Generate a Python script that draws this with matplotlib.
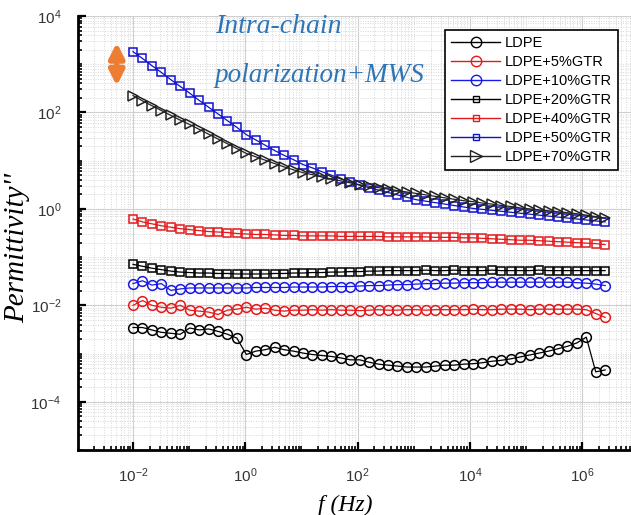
import numpy as np
import matplotlib
matplotlib.use("Agg")
import matplotlib.pyplot as plt
from matplotlib.lines import Line2D
from matplotlib.ticker import LogLocator, NullFormatter, FixedLocator

plt.rcParams["font.family"] = ["Liberation Sans", "DejaVu Sans"]
plt.rcParams["mathtext.default"] = "regular"

# frequency sweep, 10^-2 .. ~2.5e6 Hz
freq = np.logspace(-2, 6.41, 51)

# log10 of permittivity''
ldpe = [-2.46, -2.46, -2.51, -2.56, -2.58, -2.60, -2.47, -2.51, -2.49, -2.54,
        -2.60, -2.68, -3.02, -2.95, -2.92, -2.87, -2.92, -2.95, -2.99, -3.02,
        -3.04, -3.06, -3.09, -3.13, -3.13, -3.18, -3.22, -3.24, -3.26, -3.28,
        -3.28, -3.28, -3.26, -3.24, -3.24, -3.22, -3.21, -3.19, -3.16, -3.14,
        -3.11, -3.07, -3.03, -2.99, -2.95, -2.90, -2.85, -2.78, -2.66, -3.38,
        -3.34]
gtr5 = [-2.00, -1.90, -2.00, -2.04, -2.06, -2.00, -2.10, -2.12, -2.14, -2.19,
        -2.10, -2.08, -2.04, -2.08, -2.06, -2.10, -2.12, -2.10, -2.10, -2.09,
        -2.10, -2.09, -2.10, -2.10, -2.11, -2.10, -2.09, -2.10, -2.10, -2.09,
        -2.09, -2.10, -2.09, -2.09, -2.09, -2.09, -2.08, -2.09, -2.09, -2.08,
        -2.08, -2.08, -2.09, -2.08, -2.08, -2.08, -2.08, -2.08, -2.09, -2.17,
        -2.25]
gtr10 = [-1.55, -1.49, -1.58, -1.55, -1.69, -1.66, -1.64, -1.64, -1.64, -1.64,
         -1.64, -1.64, -1.64, -1.63, -1.63, -1.63, -1.63, -1.62, -1.62, -1.62,
         -1.62, -1.61, -1.61, -1.61, -1.60, -1.59, -1.59, -1.58, -1.57, -1.57,
         -1.56, -1.55, -1.55, -1.54, -1.54, -1.53, -1.53, -1.53, -1.52, -1.52,
         -1.52, -1.52, -1.52, -1.52, -1.52, -1.52, -1.52, -1.53, -1.54, -1.56,
         -1.59]
gtr20 = [-1.15, -1.19, -1.23, -1.26, -1.29, -1.31, -1.32, -1.33, -1.33, -1.34,
         -1.34, -1.35, -1.35, -1.35, -1.35, -1.34, -1.34, -1.33, -1.33, -1.32,
         -1.32, -1.31, -1.31, -1.30, -1.30, -1.29, -1.29, -1.28, -1.28, -1.28,
         -1.28, -1.27, -1.28, -1.28, -1.27, -1.28, -1.28, -1.28, -1.27, -1.28,
         -1.28, -1.28, -1.28, -1.27, -1.28, -1.28, -1.28, -1.28, -1.28, -1.28,
         -1.28]
gtr40 = [-0.21, -0.27, -0.31, -0.35, -0.38, -0.41, -0.43, -0.45, -0.47, -0.48,
         -0.49, -0.51, -0.52, -0.53, -0.53, -0.54, -0.55, -0.55, -0.56, -0.56,
         -0.56, -0.56, -0.57, -0.57, -0.57, -0.57, -0.57, -0.58, -0.58, -0.58,
         -0.58, -0.58, -0.59, -0.59, -0.59, -0.60, -0.60, -0.61, -0.62, -0.63,
         -0.64, -0.65, -0.65, -0.66, -0.67, -0.68, -0.69, -0.70, -0.71, -0.72,
         -0.74]
gtr50 = [3.26, 3.12, 2.97, 2.83, 2.68, 2.54, 2.40, 2.25, 2.11, 1.97,
         1.83, 1.69, 1.54, 1.43, 1.32, 1.21, 1.11, 1.02, 0.92, 0.85,
         0.77, 0.70, 0.62, 0.56, 0.49, 0.44, 0.39, 0.34, 0.29, 0.24,
         0.19, 0.16, 0.13, 0.10, 0.07, 0.04, 0.01, -0.01, -0.03, -0.05,
         -0.07, -0.09, -0.11, -0.13, -0.15, -0.17, -0.19, -0.21, -0.23, -0.25,
         -0.27]
gtr70 = [2.35, 2.24, 2.14, 2.04, 1.94, 1.84, 1.75, 1.65, 1.55, 1.45,
         1.35, 1.25, 1.15, 1.08, 1.01, 0.94, 0.87, 0.81, 0.75, 0.71,
         0.66, 0.62, 0.58, 0.54, 0.50, 0.47, 0.44, 0.41, 0.38, 0.35,
         0.32, 0.29, 0.26, 0.23, 0.20, 0.17, 0.15, 0.12, 0.10, 0.07,
         0.05, 0.02, 0.00, -0.02, -0.04, -0.06, -0.08, -0.10, -0.13, -0.16,
         -0.19]

labels = ["LDPE", "LDPE+5%GTR", "LDPE+10%GTR", "LDPE+20%GTR",
          "LDPE+40%GTR", "LDPE+50%GTR", "LDPE+70%GTR"]
series = [ldpe, gtr5, gtr10, gtr20, gtr40, gtr50, gtr70]
colors = ["black", "#e31a1c", "#1a1ae6", "black", "#e31a1c", "#1010d0", "#222222"]
markers = ["o", "o", "o", "s", "s", "s", ">"]
xticks = [1e-2, 1e0, 1e2, 1e4, 1e6]
yticks = [1e-4, 1e-2, 1e0, 1e2, 1e4]

fig = plt.figure(figsize=(6.31, 5.15), dpi=100)
ax = fig.add_axes([78 / 631, 1 - 450 / 515, 1 - 78 / 631, (450 - 16) / 515])

for vals, c, m in zip(series, colors, markers):
    ms = {"o": 7, "s": 6, ">": 7.5}[m]
    ax.plot(freq, 10 ** np.array(vals), color=c, lw=0.9, marker=m, ms=ms,
            mfc="none", mec=c, mew=1.1)

ax.set_xscale("log")
ax.set_yscale("log")
ax.set_xlim(10 ** -2.98, 10 ** 6.87)
ax.set_ylim(1e-5, 1e4)

ax.xaxis.set_major_locator(FixedLocator(xticks))
ax.yaxis.set_major_locator(FixedLocator(yticks))
ax.xaxis.set_minor_locator(LogLocator(base=10, subs=np.arange(1, 10), numticks=50))
ax.yaxis.set_minor_locator(LogLocator(base=10, subs=np.arange(1, 10), numticks=50))
ax.xaxis.set_minor_formatter(NullFormatter())
ax.yaxis.set_minor_formatter(NullFormatter())

ax.grid(which="major", color="#cfcfcf", lw=0.8)
ax.grid(which="minor", color="#d6d6d6", lw=0.7, ls=(0, (1, 1.5)))
ax.set_axisbelow(True)

for s in ["top", "right"]:
    ax.spines[s].set_visible(False)
for s in ["left", "bottom"]:
    ax.spines[s].set_linewidth(2)
ax.tick_params(which="major", direction="in", length=6, width=1.6,
               labelsize=11, labelcolor="#333333", pad=12)
ax.tick_params(which="minor", direction="in", length=3, width=1.2)

ax.set_xlabel("f (Hz)", family="Liberation Serif", style="italic", fontsize=17)
ax.xaxis.set_label_coords(0.483, -0.104)
ax.set_ylabel("Permittivity''", family="Liberation Serif", style="italic",
              fontsize=21)
ax.yaxis.set_label_coords(-0.087, 0.465)

ax.text(10 ** -0.54, 10 ** 3.65, "Intra-chain", family="Liberation Serif",
        style="italic", fontsize=20, color="#2e75b6")
ax.text(10 ** -0.54, 10 ** 2.64, "polarization+MWS", family="Liberation Serif",
        style="italic", fontsize=19.5, color="#2e75b6")

ax.annotate("", xy=(10 ** -2.29, 10 ** 3.45), xytext=(10 ** -2.29, 10 ** 2.55),
            arrowprops=dict(arrowstyle="<|-|>", color="#ed7d31", lw=4,
                            mutation_scale=22, shrinkA=0, shrinkB=0))

handles = []
for lab, c, m in zip(labels, colors, markers):
    ms = {"o": 7.5, "s": 5, ">": 8}[m]
    handles.append(Line2D([], [], color=c, lw=1.0, marker=m, ms=ms,
                          mfc="none", mec=c, mew=1.0, label=lab))
leg = ax.legend(handles=handles, loc="upper right", bbox_to_anchor=(0.976, 0.968),
                fontsize=10.5, frameon=True, fancybox=False, edgecolor="black",
                handlelength=3.4, borderpad=0.4, labelspacing=0.35,
                handletextpad=0.3, borderaxespad=0)
leg.get_frame().set_linewidth(1.2)
leg.get_frame().set_alpha(1)

fig.savefig("out.png", dpi=100)
